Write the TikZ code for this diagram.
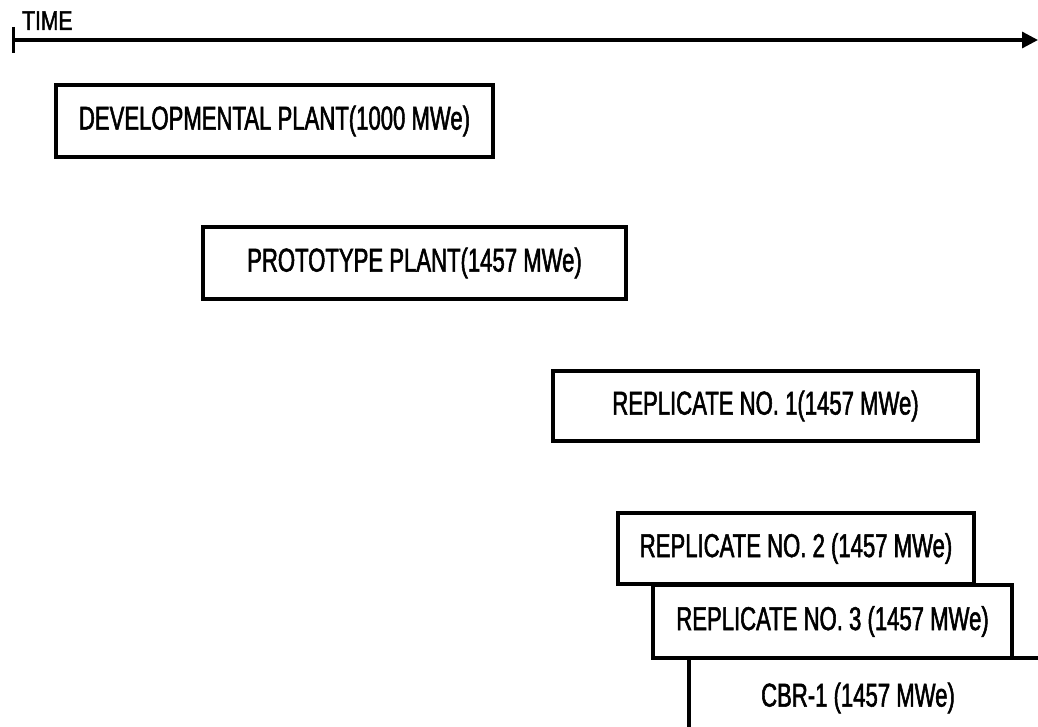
\documentclass[tikz,border=0pt]{standalone}
\usepackage{fontspec}
\usetikzlibrary{arrows.meta}
\newfontfamily\plantfont[FakeStretch=0.67,FakeBold=1.6]{Liberation Sans}
\newfontfamily\timefont[FakeStretch=0.78,FakeBold=1.6]{Liberation Sans}
\tikzset{
  plant/.style={draw, line width=3.2pt, inner sep=0pt, font=\plantfont\fontsize{33}{35}\selectfont},
  axisline/.style={line width=3.2pt},
}
\begin{document}
\begin{tikzpicture}[x=1pt,y=-1pt]
\useasboundingbox (0,0) rectangle (1038,727);
\clip (0,0) rectangle (1038,727);
% time axis
\coordinate (t0) at (13,40);
\coordinate (t1) at (1038,40);
\coordinate (tk1) at (13,27);
\coordinate (tk2) at (13,53);
\draw[axisline, -{Triangle[length=16pt,width=16pt]}] (t0) -- (t1);
\draw[line width=3pt] (tk1) -- (tk2);
\node[anchor=base west, inner sep=0pt, font=\timefont\fontsize{27}{29}\selectfont] (time) at (22,30) {TIME};
% boxes
\node[plant, minimum width=437pt, minimum height=72pt] (b1) at (274.5,121) {DEVELOPMENTAL PLANT(1000 MWe)};
\node[plant, minimum width=423pt, minimum height=72pt] (b2) at (414.5,263) {PROTOTYPE PLANT(1457 MWe)};
\node[plant, minimum width=425pt, minimum height=70pt] (b3) at (765.5,406) {REPLICATE NO. 1(1457 MWe)};
\node[plant, minimum width=356pt, minimum height=71pt] (b4) at (796,548.5) {REPLICATE NO. 2 (1457 MWe)};
\node[plant, minimum width=359pt, minimum height=73pt] (b5) at (832.5,621.5) {REPLICATE NO. 3 (1457 MWe)};
\coordinate (c6a) at (689,770);
\coordinate (c6b) at (1080,658);
\draw[line width=3.2pt] (c6a) |- (c6b);
\node[inner sep=0pt, font=\plantfont\fontsize{33}{35}\selectfont] (b6) at (858,698) {CBR-1 (1457 MWe)};
\end{tikzpicture}
\end{document}
